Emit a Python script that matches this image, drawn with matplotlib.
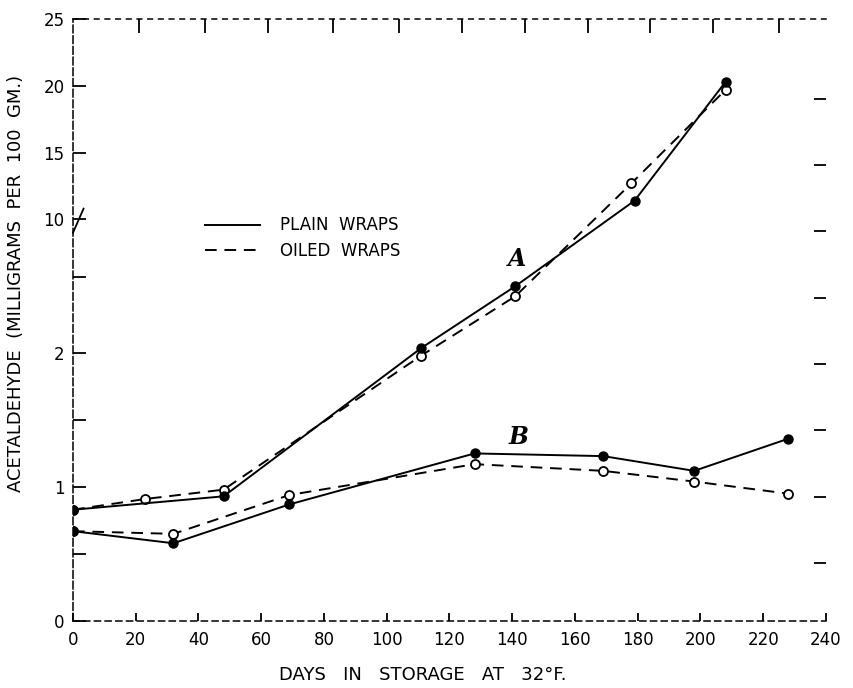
import numpy as np
import matplotlib
matplotlib.use("Agg")
import matplotlib.pyplot as plt
from matplotlib.lines import Line2D

# curve A
a_plain_days = [0, 48, 111, 141, 179, 208]
a_plain_vals = [0.83, 0.93, 2.12, 4.47, 11.4, 20.3]
a_oiled_days = [0, 23, 48, 111, 141, 178, 208]
a_oiled_vals = [0.83, 0.91, 0.98, 1.98, 3.96, 12.7, 19.7]

# curve B
b_days = [0, 32, 69, 128, 169, 198, 228]
b_plain_vals = [0.67, 0.58, 0.87, 1.25, 1.23, 1.12, 1.36]
b_oiled_vals = [0.67, 0.65, 0.94, 1.17, 1.12, 1.04, 0.95]

x_ticks = list(range(0, 241, 20))
y_ticks = [0, 1, 2, 10, 15, 20, 25]
y_minor = [0.5, 1.5, 5]
top_ticks = [21, 42, 62, 83, 104, 124, 144, 164, 184, 204, 225]


# broken axis: linear 0-2, log 2-10, compressed linear 10-25
def fwd(v):
    v = np.asarray(v, dtype=float)
    lo = v * 134.5
    mid = 269 + 134 * np.log(np.clip(v, 2, None) / 2) / np.log(5)
    hi = 403 + 13.4 * (v - 10)
    return np.where(v <= 2, lo, np.where(v <= 10, mid, hi))


def inv(p):
    p = np.asarray(p, dtype=float)
    lo = p / 134.5
    mid = 2 * 5 ** ((np.clip(p, 269, 403) - 269) / 134)
    hi = 10 + (p - 403) / 13.4
    return np.where(p <= 269, lo, np.where(p <= 403, mid, hi))


plt.rcParams['font.family'] = ['DejaVu Sans']

fig = plt.figure(figsize=(8.54, 6.88), dpi=100)
ax = fig.add_axes([73 / 854, 67 / 688, 753 / 854, 602 / 688])
ax.set_yscale('function', functions=(fwd, inv))
ax.set_xlim(0, 240)
ax.set_ylim(0, 25)

solid = dict(color='black', lw=1.4, marker='o', ms=6.5, mfc='black', mec='black')
dashed = dict(color='black', lw=1.4, ls=(0, (6, 4)), marker='o', ms=6.5,
              mfc='white', mec='black', mew=1.3)

ax.plot(a_oiled_days, a_oiled_vals, **dashed)
ax.plot(a_plain_days, a_plain_vals, **solid)
ax.plot(b_days, b_oiled_vals, **dashed)
ax.plot(b_days, b_plain_vals, **solid)

ax.text(141.5, 6.2, 'A', fontsize=17, family='DejaVu Serif', style='italic',
        weight='bold', ha='center', va='center')
ax.text(142, 1.37, 'B', fontsize=17, family='DejaVu Serif', style='italic',
        weight='bold', ha='center', va='center')

handles = [Line2D([], [], color='black', lw=1.4),
           Line2D([], [], color='black', lw=1.4, ls=(0, (6, 4)))]
ax.legend(handles, ['PLAIN  WRAPS', 'OILED  WRAPS'], loc='upper left',
          bbox_to_anchor=(0.155, 0.697), frameon=False, fontsize=12,
          handlelength=3.3, handletextpad=1.2, labelspacing=0.45)

# axes frame: sketchy dashed borders, no right spine
ax.spines['right'].set_visible(False)
ax.spines['left'].set_linestyle((0, (5, 2)))
ax.spines['bottom'].set_linestyle((0, (4, 3)))
ax.spines['top'].set_linestyle((0, (3, 4)))
for s in ['left', 'bottom', 'top']:
    ax.spines[s].set_linewidth(1.1)

ax.set_xticks(x_ticks)
ax.set_yticks(y_ticks)
ax.set_yticklabels([str(t) for t in y_ticks])
ax.set_yticks(y_minor, minor=True)
ax.tick_params(axis='both', which='both', direction='in', width=1.3,
               labelsize=12, pad=6)
ax.tick_params(axis='y', which='major', length=9)
ax.tick_params(axis='y', which='minor', length=9)
ax.tick_params(axis='x', which='major', length=6, pad=7)

# break mark on the left axis at 10
ax.plot([0.0, 0.014], [0.645, 0.685], transform=ax.transAxes, color='black',
        lw=1.3, clip_on=False)

# top tick marks
top = ax.secondary_xaxis('top')
top.set_xticks(top_ticks)
top.tick_params(direction='in', length=10, width=1.3, labeltop=False)
top.spines['top'].set_visible(False)

# right tick marks without a spine
right = ax.twinx()
right.set_ylim(0.125, 9.205)
right.set_yticks(range(1, 9))
right.tick_params(direction='in', length=9, width=1.3, labelright=False)
for s in right.spines.values():
    s.set_visible(False)

ax.set_xlabel('DAYS   IN   STORAGE   AT   32°F.', fontsize=13)
ax.xaxis.set_label_coords(0.464, -0.075)
ax.set_ylabel('ACETALDEHYDE  (MILLIGRAMS  PER  100  GM.)', fontsize=13)
ax.yaxis.set_label_coords(-0.064, 0.56)

fig.savefig('out.png', dpi=100)
